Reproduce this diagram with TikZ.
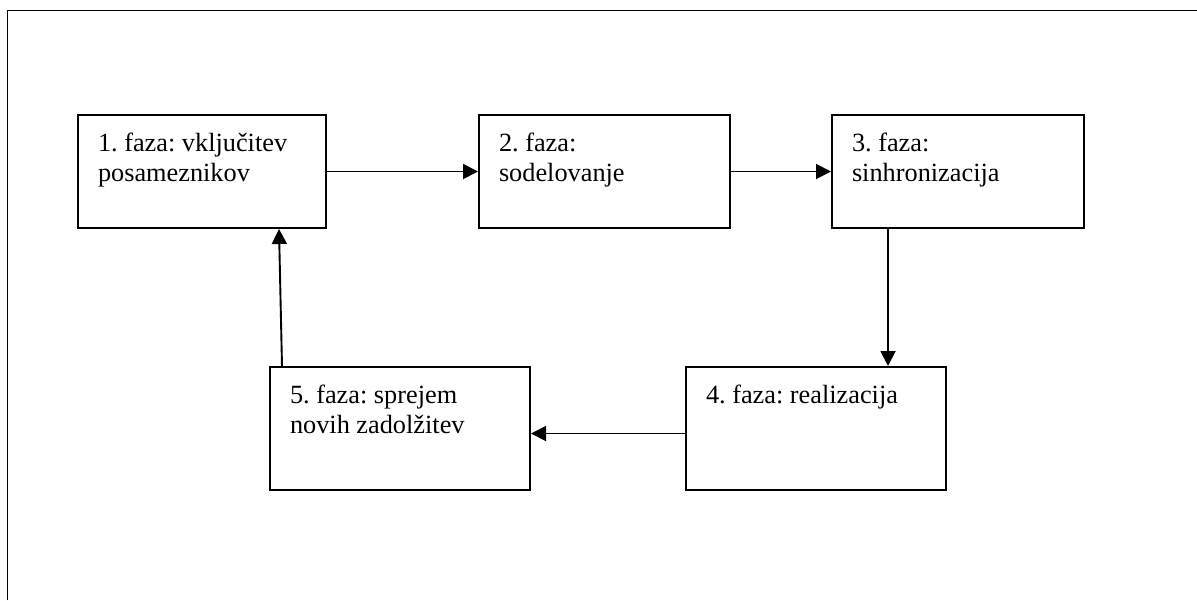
\documentclass[tikz,border=0pt]{standalone}
\usepackage{fontspec}
\setmainfont{Liberation Serif}
\usetikzlibrary{arrows.meta}
\tikzset{
  phasebox/.style={draw, line width=2pt, rectangle, anchor=north west,
    inner xsep=20pt, inner ysep=0pt, font=\fontsize{26.3}{30}\selectfont},
  flow/.style={line width=1.9pt, -{Triangle[length=15pt,width=15pt]}},
  frameline/.style={line width=1.8pt}
}
% phase text, top-left aligned inside a box of given width and height
\newcommand{\phasetext}[3]{\parbox[c][#2][t]{#1}{\raggedright\frenchspacing\rule{0pt}{36pt}#3}}
\begin{document}
\begin{tikzpicture}[x=1pt,y=-1pt]
\useasboundingbox (0,0) rectangle (1197,600);
% page frame (top and left edges)
\draw[frameline] (7.5,600) -- (7.5,10.5) -- (1197,10.5);

\node[phasebox] (b1) at (77,114)  {\phasetext{208pt}{113pt}{1. faza: vključitev\\posameznikov}};
\node[phasebox] (b2) at (478,114) {\phasetext{211pt}{113pt}{2. faza:\\sodelovanje}};
\node[phasebox] (b3) at (831,114) {\phasetext{212pt}{113pt}{3. faza:\\sinhronizacija}};
\node[phasebox] (b4) at (685,366) {\phasetext{220pt}{123pt}{4. faza: realizacija}};
\node[phasebox] (b5) at (269,366) {\phasetext{220pt}{123pt}{5. faza: sprejem\\novih zadolžitev}};

\draw[flow] (b1.east) -- (b2.west);
\draw[flow] (b2.east) -- (b3.west);
\coordinate (d34) at ([xshift=57pt]b3.south west);
\draw[flow] (d34) -- (d34 |- b4.north);
\draw[flow] ([yshift=-5pt]b4.west) -- ([yshift=-5pt]b5.east);
\coordinate (s51) at ([xshift=13pt]b5.north west);
\coordinate (e51) at ([xshift=202pt]b1.south west);
\draw[flow] (s51) -- (e51);
\end{tikzpicture}
\end{document}
